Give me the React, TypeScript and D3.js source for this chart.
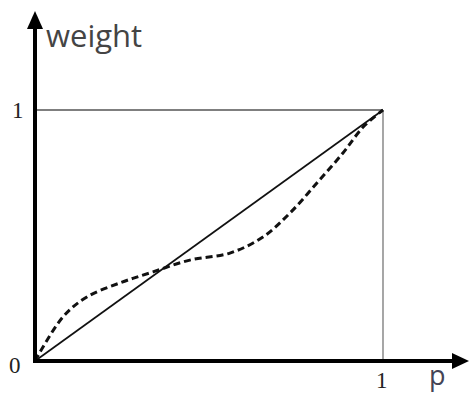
import * as d3 from 'd3';

// probability p and the two weighting curves
const linePts: [number, number][] = [[0, 0], [1, 1]];
const pValues = [0, 0.08, 0.149, 0.244, 0.339, 0.445, 0.56, 0.655, 0.733, 0.81, 0.885, 0.943, 1];
const weightValues = [0, 0.175, 0.255, 0.311, 0.355, 0.402, 0.43, 0.494, 0.59, 0.709, 0.829, 0.932, 1];
const tickLabels = ['0', '1'];

const W = 469, H = 393;
const x0 = 35, x1 = 383, y0 = 361, y1 = 110;

export default function App() {
  const x = d3.scaleLinear().domain([0, 1]).range([x0, x1]);
  const y = d3.scaleLinear().domain([0, 1]).range([y0, y1]);

  const solid = d3.line<[number, number]>().x(d => x(d[0])).y(d => y(d[1]))(linePts) || '';
  const curvePts = pValues.map((p, i) => [p, weightValues[i]] as [number, number]);
  const dashed = d3.line<[number, number]>().x(d => x(d[0])).y(d => y(d[1]))
    .curve(d3.curveCatmullRom.alpha(0.5))(curvePts) || '';

  const serif = "'Liberation Serif','DejaVu Serif',serif";
  const sans = "'Open Sans','Noto Sans',sans-serif";

  return (
    <svg width={W} height={H} style={{ position: 'absolute', left: 0, top: 0, background: '#fff' }}>
      {/* guide box at p=1, w=1 */}
      <line x1={x(0)} x2={x(1)} y1={y(1)} y2={y(1)} stroke="#555" strokeWidth={1.3} />
      <line x1={x(1)} x2={x(1)} y1={y(1)} y2={y(0)} stroke="#777" strokeWidth={1.3} />

      {/* curves */}
      <path d={solid} fill="none" stroke="#111" strokeWidth={1.7} />
      <path d={dashed} fill="none" stroke="#111" strokeWidth={3} strokeDasharray="7,4" />

      {/* axes */}
      <line x1={x(0)} x2={x(0)} y1={y0 + 2} y2={24} stroke="#000" strokeWidth={4} />
      <path d={`M${x(0)},11 L${x(0) - 8},29 L${x(0) + 8},29 Z`} fill="#000" />
      <line x1={x(0) - 2} x2={456} y1={y0} y2={y0} stroke="#000" strokeWidth={4} />
      <path d={`M469,${y0} L452,${y0 - 8} L452,${y0 + 8} Z`} fill="#000" />

      {/* tick labels */}
      <text x={9} y={y(0) + 12} fontFamily={serif} fontSize={23} fill="#222">{tickLabels[0]}</text>
      <text x={12} y={y(1) + 8} fontFamily={serif} fontSize={23} fill="#222">{tickLabels[1]}</text>
      <text x={x(1) - 7} y={y(0) + 27} fontFamily={serif} fontSize={23} fill="#222">{tickLabels[1]}</text>

      {/* axis titles */}
      <text x={46} y={47} fontFamily={sans} fontSize={31} fill="#444">weight</text>
      <text x={429} y={385} fontFamily={sans} fontSize={27} fill="#445">p</text>
    </svg>
  );
}
